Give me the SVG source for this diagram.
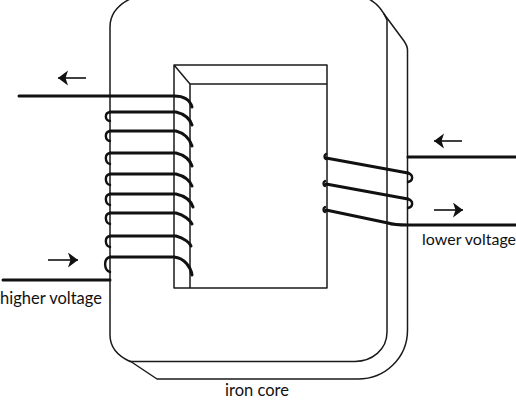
<svg xmlns="http://www.w3.org/2000/svg" width="516" height="400" viewBox="0 0 516 400">
<style>
.c{fill:none;stroke:#1a1a1a;stroke-width:1.5;stroke-linecap:round;stroke-linejoin:round}
.w{fill:none;stroke:#111;stroke-width:3;stroke-linecap:round;stroke-linejoin:round}
.h{fill:none;stroke:#111;stroke-width:2.4;stroke-linecap:round}
.a{fill:none;stroke:#111;stroke-width:1.6}
.t{font-family:"Lato","Liberation Sans",sans-serif;font-size:16.500px;fill:#111}
</style>
<defs>
<marker id="ah" markerUnits="userSpaceOnUse" markerWidth="12" markerHeight="16" refX="10" refY="7.500" orient="auto"><path d="M0 0L10 7.500L0 15L2.500 7.500Z" fill="#111"/></marker>
</defs>
<g id="iron-core">
<path class="c" d="M110 335V27C110 12 120 4 130 -1M369 -1C378 4 383 10 387 20V332C387 350 372 361 355 361.500H130C118 356 110 348 110 335"/>
<path class="c" d="M384 14L404 41C406 44 407.500 47 407.500 50V330C407.500 358 385 379 358 379H157L130 361"/>
<path class="c" d="M174 65H327V288H174ZM190 288V84H327M174 65L190 84"/>
</g>
<g id="connectors">
<g id="primary-coil">
<path class="w" d="M19 96H174C184 96 190 100 192 107"/>
<path class="w" d="M110 112H176C184 114 190 119 192 125"/>
<path class="w" d="M110 131H176C184 133 190 139 192 146"/>
<path class="w" d="M110 153H176C184 155 190 160 192 166"/>
<path class="w" d="M110 174H176C184 176 190 181 192 186"/>
<path class="w" d="M110 194H176C185 196 191 201 193 207"/>
<path class="w" d="M110 213H176C184 215 190 220 192 224"/>
<path class="w" d="M110 236H176C184 238 190 243 191 246"/>
<path class="w" d="M110 257H174C185 258 191 268 192 275"/>
<path class="w" d="M3 280H110"/>
<path class="h" d="M110 112C104 113 105 121 110 121M110 131C104 132 105 141 110 141M110 153C104 154 105 163 110 164M110 174C104 175 105 184 110 185M110 194C104 195 105 204 110 205M110 213C104 214 105 223 110 224M110 236C104 237 105 246 110 247M110 257C103 259 104 270 110 272"/>
</g>
<g id="secondary-coil">
<path class="w" d="M326 158L408 173M326 184L408 199M326 210L388 223C394 225 400 225 408 225H516M408 157H516"/>
<path class="h" d="M326 154C324 155 324 158 326 159M325 181C323 182 323 185 325 186M325 207C323 208 323 211 325 212M408 173C414 175 413 181 408 182M408 199C414 201 413 207 408 208" stroke-width="3"/>
</g>
<g id="arrows">
<path class="a" d="M86 78H58" marker-end="url(#ah)"/>
<path class="a" d="M48 260H78" marker-end="url(#ah)"/>
<path class="a" d="M462 141H434" marker-end="url(#ah)"/>
<path class="a" d="M434 210H463" marker-end="url(#ah)"/>
</g>
</g>
<g id="labels">
<text class="t" x="0" y="304">higher voltage</text>
<text class="t" x="422" y="245" style="font-size:16px">lower voltage</text>
<text class="t" x="225" y="396">iron core</text>
</g>
</svg>
